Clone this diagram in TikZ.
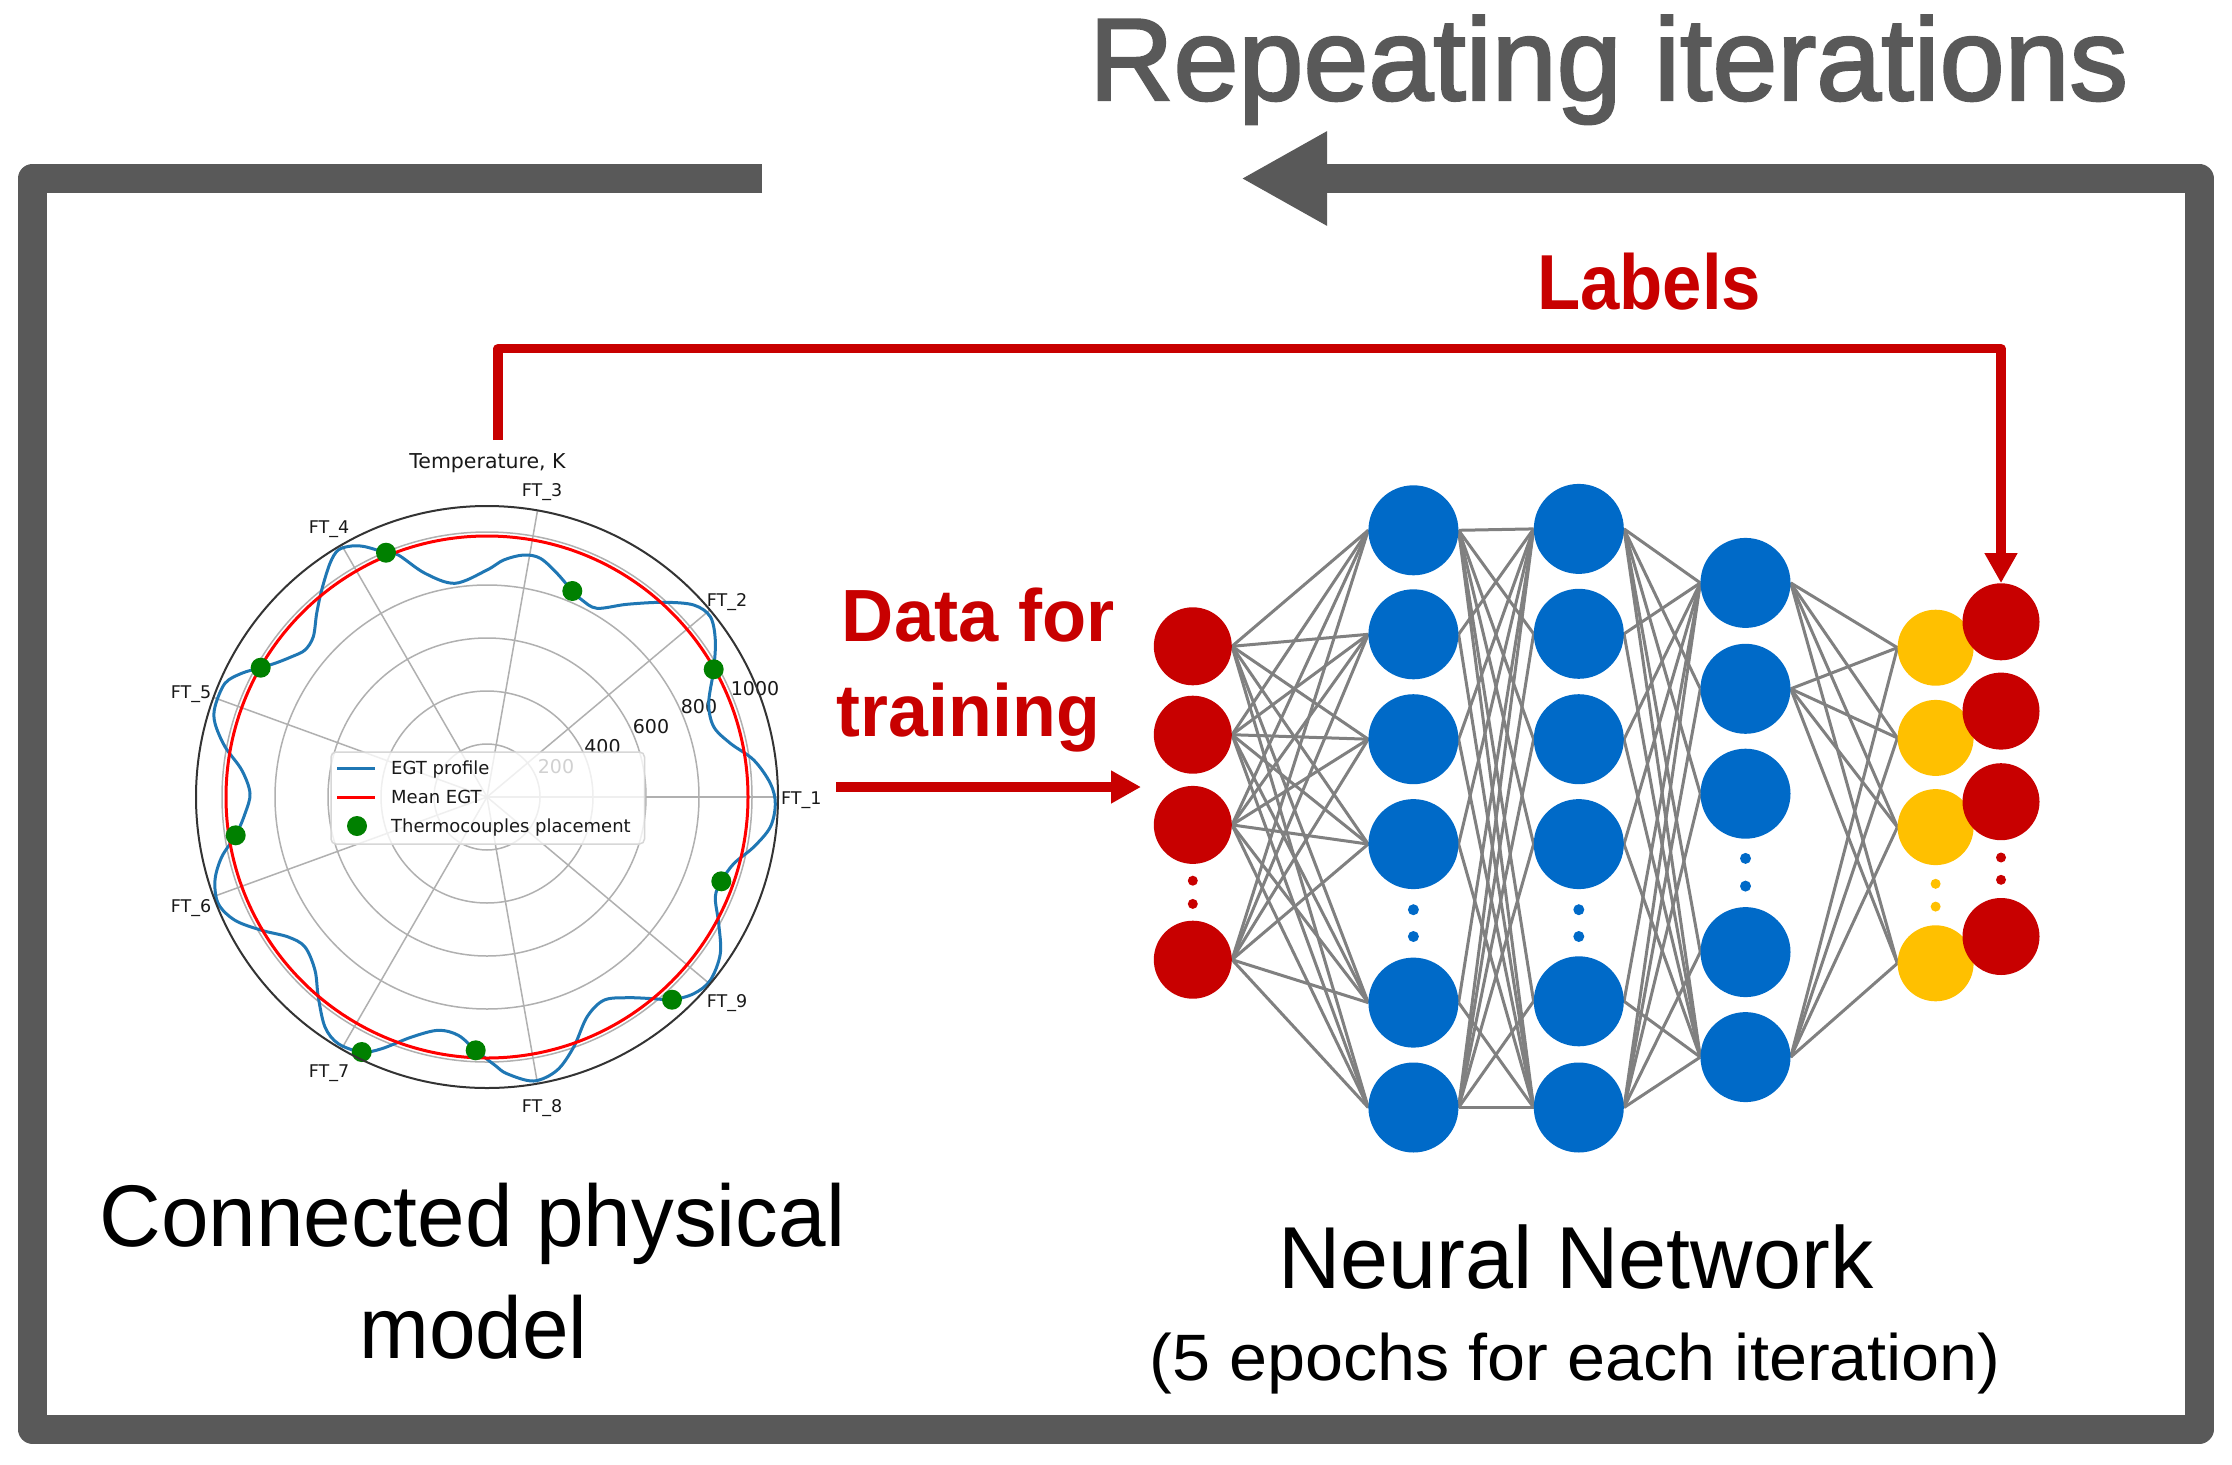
\documentclass[tikz,border=0pt]{standalone}
\usepackage{fontspec}
\setmainfont{Liberation Sans}
\newfontfamily\dejavu{DejaVu Sans}
\newfontfamily\semibold[FakeBold=2]{Liberation Sans}
\usepackage{graphicx}
\usetikzlibrary{arrows.meta}
\definecolor{framegray}{RGB}{89,89,89}
\definecolor{nnred}{RGB}{200,0,0}
\definecolor{nnblue}{RGB}{0,106,200}
\definecolor{nnyellow}{RGB}{255,192,0}
\definecolor{edgegray}{RGB}{128,128,128}
\definecolor{mplblue}{RGB}{31,119,180}
\definecolor{mplgrid}{RGB}{176,176,176}
\definecolor{mplgreen}{RGB}{0,128,0}
\definecolor{mplred}{RGB}{255,0,0}
\definecolor{legendedge}{RGB}{215,215,215}
\newcommand{\fsz}[1]{\fontsize{#1}{#1}\selectfont}
\pgfdeclarelayer{back}
\pgfdeclarelayer{bg}
\pgfsetlayers{back,bg,main}
\begin{document}
\begin{tikzpicture}[x=1pt,y=-1pt,
  frameline/.style={draw=framegray, line width=29pt, line join=round},
  redarrow/.style={draw=nnred, line width=9.3pt, line join=round, -{Triangle[length=30pt,width=31pt]}},
  nnedge/.style={draw=edgegray, line width=3pt},
  inp/.style={circle, fill=nnred, inner sep=0pt, minimum size=78pt},
  hid/.style={circle, fill=nnblue, inner sep=0pt, minimum size=90pt},
  yel/.style={circle, fill=nnyellow, inner sep=0pt, minimum size=76pt},
  outp/.style={circle, fill=nnred, inner sep=0pt, minimum size=77pt},
  ell/.style={circle, inner sep=0pt, minimum size=11pt},
  txt/.style={inner sep=0pt},
  grid/.style={draw=mplgrid, line width=1.5pt},
  ftlab/.style={inner sep=0pt, anchor=base, font=\dejavu\fsz{17.5}, text=black!90},
  ticklab/.style={inner sep=0pt, anchor=base, font=\dejavu\fsz{19}, text=black!90},
  leglab/.style={inner sep=0pt, anchor=base west, font=\dejavu\fsz{18}, text=black!90}
]
\begin{pgfonlayer}{back}
\fill[white] (0,0) rectangle (2232,1464);
\end{pgfonlayer}
\useasboundingbox (0,0) rectangle (2232,1464);

% ---------- frame loop ----------
\coordinate (fL) at (762,178.5);
\coordinate (fTL) at (32.5,178.5);
\coordinate (fBL) at (32.5,1429);
\coordinate (fBR) at (2199,1429);
\coordinate (fTR) at (2199,178.5);
\coordinate (fTip) at (1241,178.5);
\draw[frameline, -{Triangle[length=86pt,width=88pt]}] (fL) -- (fTL) -- (fBL) -- (fBR) -- (fTR) -- (fTip);

\node[txt, anchor=base west, text=framegray] (rep) at (1089,100)
  {\resizebox{1039pt}{\height}{\semibold\fsz{117}Repeating iterations}};

% ---------- polar plot ----------
\foreach \r in {53,106,159,212,265} \draw[grid] (487,797) circle[radius=\r pt];
\foreach \a in {0,40,...,320} \draw[grid] (487,797) -- ({487+291*cos(\a)},{797-291*sin(\a)});
\node[ticklab] (t200) at (556,773.7) {200};
\node[ticklab] (t400) at (602.5,753.7) {400};
\node[ticklab] (t600) at (651,733.7) {600};
\node[ticklab] (t800) at (699,713.7) {800};
\node[ticklab] (t1000) at (755,695) {1000};

\draw[mplblue, line width=3pt] plot[smooth cycle, tension=0.55] coordinates {
(487,570) (455,583.3) (425,573.3) (398.3,555) (386,552.7) (365,546.7) (351.7,546) (338.3,550) (330,563.3) (321.7,590) (316.7,613.3) (313.3,636.7) (305,650) (291.7,656.7) (275,663.3) (260.7,667.7) (241.7,673.3) (225,683.3) (215,706.7) (215,723.3) (225,746.7) (241.7,770) (250,793.3)
(245,813.7) (235.7,835.3) (221.7,857) (215,880.3) (218.3,903.7) (235,920.3) (261.7,930.3) (288.3,937) (305,947) (315,970.3) (318.3,997) (325,1027) (338.3,1043.7) (361.7,1052) (381.7,1048.7) (411.7,1037) (438.3,1030.3) (458.3,1035.3) (475.7,1050.3) (495,1065.3)
(507,1073.7) (533.7,1081) (557,1070.3) (573.7,1047) (587,1017) (603.7,1000.3) (627,997.7) (653.7,998.7) (672,999.7) (693.7,993.7) (710.3,980.3) (720.3,953.7) (718.7,923.7) (715.3,897) (721.3,881.3) (733.7,863.7) (753.7,847) (770.3,827) (775.3,803.7)
(770.3,783.3) (753.7,760) (730.3,743.3) (713.7,726.7) (708.7,703.3) (713.7,669.3) (715.3,640) (710.3,616.7) (693.7,605) (663.7,602.3) (627,604.3) (597,608.3) (582,600) (572.3,591) (557,573.3) (540.3,558.3) (523.7,555) (503.7,560)};
\draw[mplred, line width=3pt] (487,797) circle[radius=261pt];
\foreach \p in {(386,552.7),(260.7,667.7),(572.3,591),(713.7,669.3),(235.7,835.3),(361.7,1052),(475.7,1050.3),(721.3,881.3),(672,999.7)}
  \fill[mplgreen] \p circle[radius=10pt];
\draw[black!80, line width=2pt] (487,797) circle[radius=291pt];

% legend
\draw[draw=legendedge, fill=white, fill opacity=0.8, line width=1.5pt, rounded corners=5pt] (331,752) rectangle (644.5,844);
\draw[mplblue, line width=3pt] (337,768) -- (375,768);
\draw[mplred, line width=3pt] (337,797) -- (375,797);
\fill[mplgreen] (357,826) circle[radius=10pt];
\node[leglab] (leg1) at (391,774.5) {EGT profile};
\node[leglab] (leg2) at (391,803.5) {Mean EGT};
\node[leglab] (leg3) at (391,832.5) {Thermocouples placement};

% title and FT labels
\node[inner sep=0pt, anchor=base, font=\dejavu\fsz{20.5}, text=black!90] (ptitle) at (487.5,468) {Temperature, K};
\node[inner sep=0pt, anchor=base west, font=\dejavu\fsz{17.5}, text=black!90] (ft1) at (781,804.4) {FT\_1};
\node[ftlab] (ft2) at (727,606.4) {FT\_2};
\node[ftlab] (ft3) at (542,496.4) {FT\_3};
\node[ftlab] (ft4) at (329,533.4) {FT\_4};
\node[ftlab] (ft5) at (191,698.4) {FT\_5};
\node[ftlab] (ft6) at (191,912.4) {FT\_6};
\node[ftlab] (ft7) at (329,1077.4) {FT\_7};
\node[ftlab] (ft8) at (542,1112.4) {FT\_8};
\node[ftlab] (ft9) at (727,1007.4) {FT\_9};

\node[txt, anchor=base, text=black] (cpm1) at (472.4,1246) {\resizebox{746pt}{\height}{\fsz{87.5}Connected physical}};
\node[txt, anchor=base, text=black] (cpm2) at (473.6,1358.3) {\resizebox{228pt}{\height}{\fsz{87.5}model}};

% ---------- neural network ----------
\node[inp] (i1) at (1192.8,646.3) {};
\node[inp] (i2) at (1192.8,734.7) {};
\node[inp] (i3) at (1192.8,824.9) {};
\node[inp] (i4) at (1192.8,959.7) {};
\node[ell, fill=nnred, minimum size=10pt] (ie1) at (1192.8,880.7) {};
\node[ell, fill=nnred, minimum size=10pt] (ie2) at (1192.8,903.9) {};

\node[hid] (a1) at (1413.4,530.3) {};
\node[hid] (a2) at (1413.4,634.3) {};
\node[hid] (a3) at (1413.4,739.2) {};
\node[hid] (a4) at (1413.4,844.1) {};
\node[hid] (a5) at (1413.4,1002.6) {};
\node[hid] (a6) at (1413.4,1107.5) {};
\node[ell, fill=nnblue] (ae1) at (1413.4,909.7) {};
\node[ell, fill=nnblue] (ae2) at (1413.4,936.5) {};

\node[hid] (b1) at (1578.8,528.9) {};
\node[hid] (b2) at (1578.8,633.8) {};
\node[hid] (b3) at (1578.8,739.2) {};
\node[hid] (b4) at (1578.8,844.1) {};
\node[hid] (b5) at (1578.8,1001.3) {};
\node[hid] (b6) at (1578.8,1107.5) {};
\node[ell, fill=nnblue] (be1) at (1578.8,909.7) {};
\node[ell, fill=nnblue] (be2) at (1578.8,936.5) {};

\node[hid] (c1) at (1745.5,582.9) {};
\node[hid] (c2) at (1745.5,688.8) {};
\node[hid] (c3) at (1745.5,793.7) {};
\node[hid] (c4) at (1745.5,952.1) {};
\node[hid] (c5) at (1745.5,1057.1) {};
\node[ell, fill=nnblue] (ce1) at (1745.5,858.4) {};
\node[ell, fill=nnblue] (ce2) at (1745.5,886.1) {};

\node[yel] (y1) at (1935.6,647.7) {};
\node[yel] (y2) at (1935.6,737.9) {};
\node[yel] (y3) at (1935.6,827.1) {};
\node[yel] (y4) at (1935.6,963.3) {};
\node[ell, fill=nnyellow, minimum size=10pt] (ye1) at (1935.6,883.8) {};
\node[ell, fill=nnyellow, minimum size=10pt] (ye2) at (1935.6,906.6) {};

\node[outp] (o1) at (2001,621.8) {};
\node[outp] (o2) at (2001,711.1) {};
\node[outp] (o3) at (2001,801.7) {};
\node[outp] (o4) at (2001,936.5) {};
\node[ell, fill=nnred, minimum size=10pt] (oe1) at (2001,857.5) {};
\node[ell, fill=nnred, minimum size=10pt] (oe2) at (2001,879.8) {};

\begin{pgfonlayer}{bg}
\foreach \i in {1,...,4} \foreach \j in {1,...,6} \draw[nnedge] (i\i.east) -- (a\j.west);
\foreach \i in {1,...,6} \foreach \j in {1,6} \draw[nnedge] (a\i.east) -- (b\j.west);
\foreach \i in {2,...,5} \foreach \j in {1,6} \draw[nnedge] (a\j.east) -- (b\i.west);
\foreach \i in {1,...,6} \foreach \j in {1,5} \draw[nnedge] (b\i.east) -- (c\j.west);
\foreach \i in {2,3,4} \foreach \j in {1,6} \draw[nnedge] (b\j.east) -- (c\i.west);
\foreach \i in {1,2,5} \foreach \j in {1,...,4} \draw[nnedge] (c\i.east) -- (y\j.west);
\end{pgfonlayer}

\node[txt, anchor=base, text=black] (nn1) at (1575.7,1288.3) {\resizebox{595.4pt}{\height}{\fsz{88}Neural Network}};
\node[txt, anchor=base, text=black] (nn2) at (1575.4,1380) {\resizebox{850.8pt}{\height}{\fsz{65.6}(5 epochs for each iteration)}};

% ---------- red connectors ----------
\node[txt, anchor=base west, text=nnred] (lbl) at (1537,309) {\resizebox{224pt}{\height}{\fsz{78}\bfseries Labels}};
\node[txt, anchor=base west, text=nnred] (dft1) at (841.7,641.7) {\resizebox{273pt}{\height}{\fsz{74}\bfseries Data for}};
\node[txt, anchor=base west, text=nnred] (dft2) at (836.7,736.7) {\resizebox{263pt}{\height}{\fsz{74}\bfseries training}};

\coordinate (plottop) at (498,440);
\coordinate (lblcorner) at (498,348.7);
\draw[redarrow] (plottop) -- (lblcorner) -| (o1.north);
\coordinate (dA) at (836,787);
\coordinate (dB) at (1141,787);
\draw[redarrow] (dA) -- (dB);
\end{tikzpicture}
\end{document}
